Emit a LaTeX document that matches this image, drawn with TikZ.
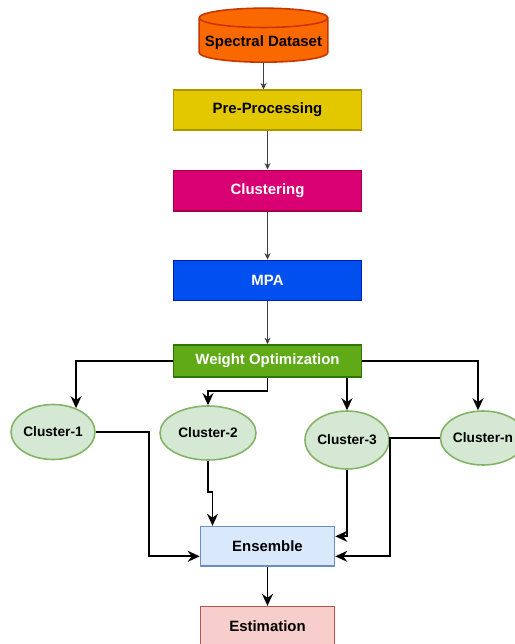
\documentclass[tikz,border=0pt]{standalone}
\usepackage{fontspec}
\setmainfont{Liberation Sans}
\usepackage{tikz}
\usetikzlibrary{arrows.meta,positioning,calc,shapes.geometric}
\definecolor{dataf}{HTML}{FA6800}
\definecolor{datad}{HTML}{C73500}
\definecolor{pref}{HTML}{E3C800}
\definecolor{pred}{HTML}{B09500}
\definecolor{clusf}{HTML}{D80073}
\definecolor{clusd}{HTML}{A50040}
\definecolor{mpaf}{HTML}{0050EF}
\definecolor{mpad}{HTML}{001DBC}
\definecolor{wof}{HTML}{60A917}
\definecolor{wod}{HTML}{2D7600}
\definecolor{cellf}{HTML}{D5E8D4}
\definecolor{celld}{HTML}{82B366}
\definecolor{ensf}{HTML}{DAE8FC}
\definecolor{ensd}{HTML}{6C8EBF}
\definecolor{estf}{HTML}{F8CECC}
\definecolor{estd}{HTML}{B85450}
\tikzset{
  stage/.style={draw, line width=0.9pt, align=center, font=\fontsize{8.5}{10}\selectfont\bfseries,
                minimum width=3.76cm, minimum height=0.81cm, inner sep=2pt},
  outb/.style={stage, minimum width=2.68cm, minimum height=0.79cm},
  cell/.style={ellipse, draw=celld, fill=cellf, line width=0.9pt,
               font=\fontsize{7.8}{9}\selectfont\bfseries, inner sep=0pt},
  flow/.style={-{Stealth[length=1.3mm, width=1.2mm]}, line width=0.5pt, draw=black!75},
  arr/.style={-{Stealth[length=2.4mm, width=2.2mm]}, line width=1.1pt, draw=black},
}
\begin{document}
\begin{tikzpicture}
  \useasboundingbox (0,0) rectangle (10.28,-12.88);
  \node[stage, fill=pref, draw=pred, minimum height=0.79cm] (pre) at (5.35,-2.2) {Pre-Processing};
  \node[cylinder, shape border rotate=90, aspect=0.15, draw=datad, fill=dataf, line width=0.9pt,
        minimum width=2.54cm, minimum height=1.08cm, font=\fontsize{8.5}{10}\selectfont\bfseries,
        above=0.53cm of pre, xshift=-0.08cm] (data) {Spectral Dataset};
  \node[stage, fill=clusf, draw=clusd, text=white, below=0.78cm of pre] (clus) {Clustering};
  \node[stage, fill=mpaf, draw=mpad, text=white, minimum height=0.8cm, below=0.96cm of clus] (mpa) {MPA};
  \node[stage, fill=wof, draw=wod, text=white, minimum height=0.64cm, below=0.86cm of mpa] (wo) {Weight Optimization};
  % clusters
  \node[cell, minimum width=1.64cm, minimum height=1.1cm] (c1) at (1.06,-8.64) {Cluster-1};
  \node[cell, minimum width=1.92cm, minimum height=1.08cm] (c2) at (4.16,-8.66) {Cluster-2};
  \node[cell, minimum width=1.6cm, minimum height=1.16cm] (c3) at (6.94,-8.8) {Cluster-3};
  \node[cell, minimum width=1.56cm, minimum height=1.08cm] (cn) at (9.66,-8.76) {Cluster-n};
  \node[outb, fill=ensf, draw=ensd, below=2.96cm of wo] (ens) {Ensemble};
  \node[outb, fill=estf, draw=estd, below=0.78cm of ens] (est) {Estimation};
  % column
  \draw[flow] (data) -- (data |- pre.north);
  \draw[flow] (pre) -- (clus);
  \draw[flow] (clus) -- (mpa);
  \draw[flow] (mpa) -- (wo);
  % split
  \draw[arr] (wo.west) -| (c1.46);
  \draw[arr] (wo.south) -- ++(0,-0.26) -| (c2.north);
  \draw[arr] (wo.south -| c3.north) -- (c3.north);
  \draw[arr] (wo.east) -| ([xshift=-0.1cm]cn.north);
  % merge
  \draw[arr] (c1.east) -- ++(1.06,0) |- ([yshift=-0.2cm]ens.west);
  \draw[arr] (c2.south) -- ++(0,-0.62) -| ([xshift=-1.1cm]ens.north);
  \draw[arr] (c3.south) |- ([yshift=0.2cm]ens.east);
  \draw[arr] (cn.west) -- (cn.west -| c3.east) |- ([yshift=-0.2cm]ens.east);
  \draw[arr] (ens) -- (est);
\end{tikzpicture}
\end{document}
